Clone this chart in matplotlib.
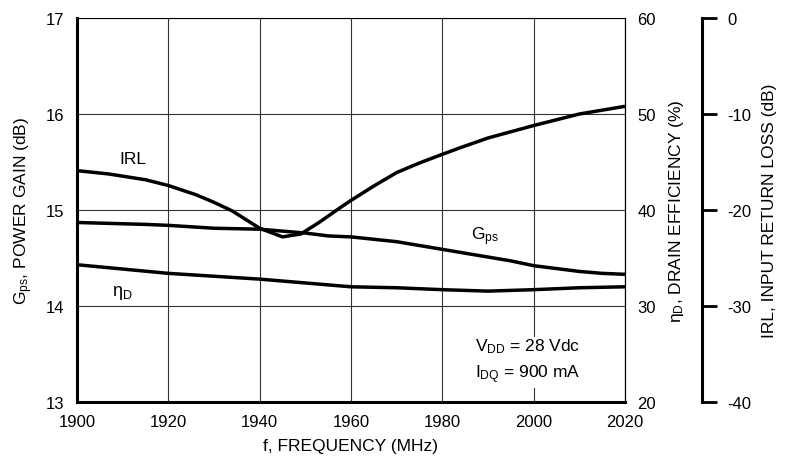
import matplotlib.pyplot as plt

plt.rcParams['font.family'] = ['Liberation Sans Narrow', 'Liberation Sans', 'DejaVu Sans']
plt.rcParams['mathtext.default'] = 'regular'
plt.rcParams['axes.unicode_minus'] = False

# frequency (MHz)
f_gps = [1900, 1915, 1920, 1930, 1940, 1945, 1950, 1955, 1960, 1970, 1980, 1990, 1995, 2000, 2010, 2015, 2020]
gps = [14.87, 14.85, 14.84, 14.81, 14.80, 14.78, 14.76, 14.73, 14.72, 14.67, 14.59, 14.51, 14.47, 14.42, 14.36, 14.34, 14.33]

f_eff = [1900, 1920, 1940, 1950, 1960, 1970, 1980, 1990, 2000, 2010, 2020]
eff = [34.3, 33.4, 32.8, 32.4, 32.0, 31.9, 31.7, 31.55, 31.7, 31.9, 32.0]

f_irl = [1900, 1907, 1915, 1920, 1926, 1930, 1934, 1940, 1945, 1949, 1953, 1957.5, 1960,
         1965, 1970, 1975, 1980, 1984, 1990, 2000, 2010, 2020]
irl = [-15.9, -16.25, -16.85, -17.45, -18.4, -19.2, -20.1, -21.9, -22.8, -22.5, -21.3, -19.8, -19.0,
       -17.5, -16.1, -15.1, -14.2, -13.5, -12.5, -11.2, -10.0, -9.2]

fig = plt.figure(figsize=(7.93, 4.77), dpi=100)
ax = fig.add_axes([77/793, 1-403/477, 548/793, 384/477])
ax2 = ax.twinx()
ax3 = ax.twinx()

line_kw = dict(color='black', lw=2.5, solid_capstyle='butt', solid_joinstyle='round')
ax.plot(f_gps, gps, **line_kw)
ax2.plot(f_eff, eff, **line_kw)
ax3.plot(f_irl, irl, **line_kw)

ax.set_xlim(1900, 2020)
ax.set_ylim(13, 17)
ax2.set_ylim(20, 60)
ax3.set_ylim(-40, 0)
ax.set_xticks(range(1900, 2021, 20))
ax.set_yticks([13, 14, 15, 16, 17])
ax2.set_yticks([20, 30, 40, 50, 60])
ax3.set_yticks([-40, -30, -20, -10, 0])

ax.grid(True, color='#333333', lw=0.8)
ax.tick_params(length=0, labelsize=12, pad=9)
ax2.tick_params(length=0, labelsize=12, pad=9)
ax3.tick_params(direction='out', length=11, width=2, labelsize=12, pad=7)

for s in ['top', 'right']:
    ax.spines[s].set_linewidth(0.8)
for s in ['left', 'bottom']:
    ax.spines[s].set_linewidth(2.2)
for s in ['top', 'left', 'bottom']:
    ax2.spines[s].set_visible(False)
    ax3.spines[s].set_visible(False)
ax2.spines['right'].set_linewidth(0.8)
ax3.spines['right'].set_position(('axes', 1.1405))
ax3.spines['right'].set_linewidth(2.2)

ax.set_xlabel('f, FREQUENCY (MHz)', fontsize=12.5, labelpad=6)
ax.set_ylabel('G$_{ps}$, POWER GAIN (dB)', fontsize=12.5, labelpad=8)
ax2.set_ylabel('η$_{D}$, DRAIN EFFICIENCY (%)', fontsize=12.5, labelpad=8)
ax3.set_ylabel('IRL, INPUT RETURN LOSS (dB)', fontsize=12.5, labelpad=8)

ax.text(1912.3, 15.54, 'IRL', fontsize=12.5, ha='center', va='center')
ax.text(1989.3, 14.73, 'G$_{ps}$', fontsize=12.5, ha='center', va='center')
ax.text(1910, 14.15, 'η$_{D}$', fontsize=13, ha='center', va='center')
ax.text(1987.2, 13.43, 'V$_{DD}$ = 28 Vdc\nI$_{DQ}$ = 900 mA', fontsize=12.5,
        ha='left', va='center', linespacing=1.45,
        bbox=dict(facecolor='white', edgecolor='none', pad=2))

fig.savefig('out.png', dpi=100)
